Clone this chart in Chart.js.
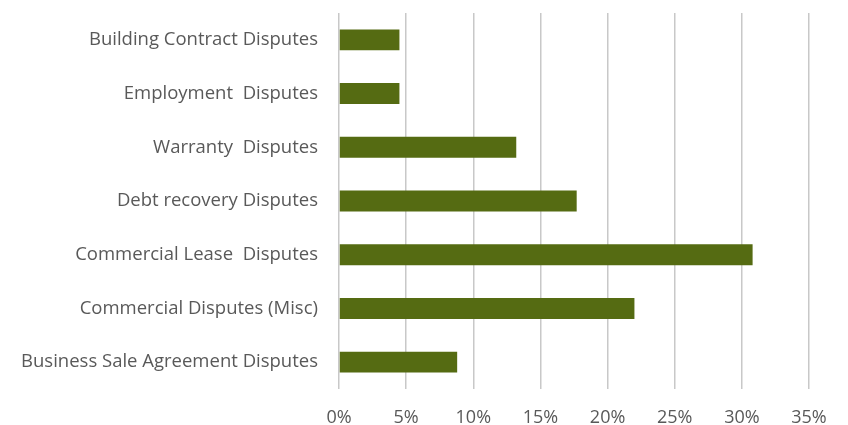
<!DOCTYPE html>
<html>
<head>
<meta charset="utf-8">
<script src="https://cdn.jsdelivr.net/npm/chart.js@4.4.1/dist/chart.umd.min.js"></script>
<style>
  html, body { margin: 0; padding: 0; background: #ffffff; }
  #wrap { width: 848px; height: 425px; position: relative; }
</style>
</head>
<body>
<div id="wrap"><canvas id="myChart"></canvas></div>
<script>
// categories, top to bottom
const categories = [
    "Building Contract Disputes",
    "Employment  Disputes",
    "Warranty  Disputes",
    "Debt recovery Disputes",
    "Commercial Lease  Disputes",
    "Commercial Disputes (Misc)",
    "Business Sale Agreement Disputes"
];

// share of disputes, in percent
const shares = [4.5, 4.5, 13.2, 17.7, 30.8, 22.0, 8.8];

const xTicks = [0, 5, 10, 15, 20, 25, 30, 35];

const ctx = document.getElementById('myChart').getContext('2d');

let data = {
    labels: categories,
    datasets: [{
        label: "Disputes",
        backgroundColor: "#556b12",
        data: shares,
        barPercentage: 0.39,
        categoryPercentage: 1.0,
    }]
};

let options = {
    indexAxis: 'y',
    responsive: true,
    maintainAspectRatio: false,
    animation: false,
    layout: {
        padding: { left: 0, right: 39, top: 13, bottom: 0 }
    },
    plugins: {
        legend: { display: false },
        tooltip: { enabled: false },
    },
    scales: {
        x: {
            min: 0,
            max: 35,
            afterBuildTicks: (scale) => {
                scale.ticks = xTicks.map(v => ({ value: v }));
            },
            // fixed box sizes so the plot area lands where the original sits
            afterFit: (scale) => {
                scale.height = 36;
                scale.paddingLeft = 0;
                scale.paddingRight = 0;
            },
            grid: {
                color: "#c8c8c8",
                lineWidth: 1.5,
                drawTicks: false,
            },
            border: { display: false },
            ticks: {
                padding: 18,
                color: "#595959",
                font: { family: "Open Sans", size: 18 },
                callback: (v) => v + "%",
            }
        },
        y: {
            afterFit: (scale) => {
                scale.width = 339;
                scale.paddingTop = 0;
                scale.paddingBottom = 0;
            },
            grid: { display: false, drawTicks: false },
            border: { display: false },
            ticks: {
                padding: 21,
                color: "#595959",
                font: { family: "Open Sans", size: 18.5 },
            }
        }
    }
};

let graphic = new Chart(ctx, { type: 'bar', data: data, options: options });
</script>
</body>
</html>
